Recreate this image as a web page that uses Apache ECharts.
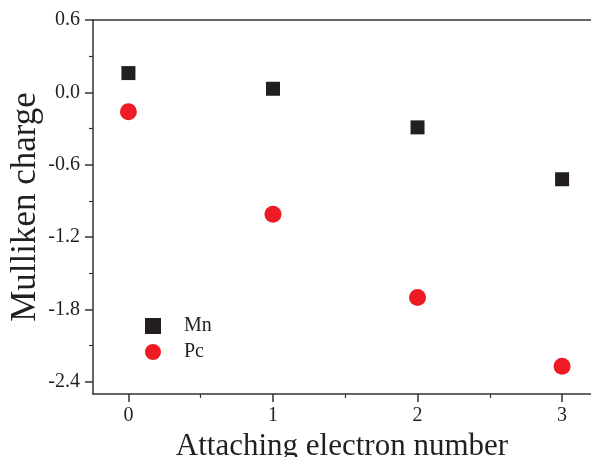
<!DOCTYPE html>
<html>
<head>
<meta charset="utf-8">
<script src="https://cdn.jsdelivr.net/npm/echarts@6/dist/echarts.min.js"></script>
<style>
  html, body { margin: 0; padding: 0; background: #fff; }
  #chart { width: 591px; height: 457px; }
</style>
</head>
<body>
<div id="chart"></div>
<script>
  // electron count on x, Mulliken charge on y
  const electrons = [0, 1, 2, 3];
  const mnCharge = [0.16, 0.03, -0.29, -0.72];
  const pcCharge = [-0.16, -1.01, -1.70, -2.27];
  const xTicks = [0, 1, 2, 3];
  const xMinor = [0.5, 1.5, 2.5];
  const yTicks = [-2.4, -1.8, -1.2, -0.6, 0.0, 0.6];
  const yMinor = [-2.1, -1.5, -0.9, -0.3, 0.3];

  const chart = echarts.init(document.getElementById('chart'));
  const serif = 'Liberation Serif';
  const axisColor = '#333';
  const textColor = '#231f20';
  const xRange = { min: -0.245, max: 3.2 };
  const yRange = { min: -2.5, max: 0.6 };

  // axis that only draws ticks at given values
  function tickAxis(range, pos, values, len, width) {
    return Object.assign({
      type: 'value',
      position: pos,
      splitLine: { show: false },
      axisLine: { show: false, onZero: false },
      axisTick: { show: true, length: len, customValues: values, lineStyle: { color: axisColor, width: width } },
      axisLabel: { show: false }
    }, range);
  }

  const option = {
    animation: false,
    grid: { left: 93, right: 0, top: 20, bottom: 63, containLabel: false, outerBoundsMode: 'none' },
    legend: {
      orient: 'vertical',
      left: 140,
      top: 311,
      itemGap: 6,
      itemWidth: 16,
      itemHeight: 16,
      textStyle: { fontFamily: serif, fontSize: 20, color: textColor, padding: [0, 0, 0, 18] },
      data: [
        { name: 'Mn', icon: 'rect' },
        { name: 'Pc', icon: 'circle' }
      ]
    },
    xAxis: [
      Object.assign({
        type: 'value',
        position: 'bottom',
        name: 'Attaching electron number',
        nameLocation: 'middle',
        nameGap: 33,
        nameTextStyle: { fontFamily: serif, fontSize: 31, color: textColor },
        splitLine: { show: false },
        axisLine: { onZero: false, lineStyle: { color: axisColor, width: 1.5 } },
        axisTick: { show: false },
        axisLabel: {
          customValues: xTicks,
          fontFamily: serif, fontSize: 20, color: textColor, margin: 12,
          formatter: v => String(v)
        }
      }, xRange),
      tickAxis(xRange, 'bottom', xTicks, 8, 1.5),
      tickAxis(xRange, 'bottom', xMinor, 4, 1.2),
      Object.assign({
        type: 'value',
        position: 'top',
        splitLine: { show: false },
        axisLine: { show: true, onZero: false, lineStyle: { color: axisColor, width: 1.5 } },
        axisTick: { show: false },
        axisLabel: { show: false }
      }, xRange)
    ],
    yAxis: [
      Object.assign({
        type: 'value',
        position: 'left',
        name: 'Mulliken charge',
        nameLocation: 'middle',
        nameGap: 50,
        nameMoveOverlap: false,
        nameTextStyle: { fontFamily: serif, fontSize: 35, color: textColor },
        splitLine: { show: false },
        axisLine: { onZero: false, lineStyle: { color: axisColor, width: 1.5 } },
        axisTick: { show: false },
        axisLabel: {
          customValues: yTicks,
          fontFamily: serif, fontSize: 20, color: textColor, margin: 13,
          formatter: v => v.toFixed(1)
        }
      }, yRange),
      tickAxis(yRange, 'left', yTicks, 8, 1.5),
      tickAxis(yRange, 'left', yMinor, 4, 1.2)
    ],
    series: [
      {
        name: 'Mn',
        type: 'scatter',
        symbol: 'rect',
        symbolSize: 14,
        itemStyle: { color: textColor, opacity: 1 },
        data: electrons.map((x, i) => [x, mnCharge[i]])
      },
      {
        name: 'Pc',
        type: 'scatter',
        symbol: 'circle',
        symbolSize: 17,
        itemStyle: { color: '#ed1c24', opacity: 1 },
        data: electrons.map((x, i) => [x, pcCharge[i]])
      }
    ]
  };

  chart.setOption(option);
</script>
</body>
</html>
